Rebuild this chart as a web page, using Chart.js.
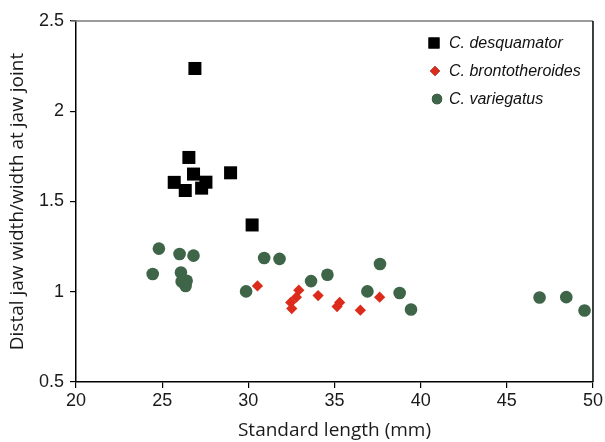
<!DOCTYPE html>
<html>
<head>
<meta charset="utf-8">
<script src="https://cdn.jsdelivr.net/npm/chart.js@4.4.1/dist/chart.umd.min.js"></script>
<style>
  html, body { margin: 0; padding: 0; background: #fff; }
  #wrap { width: 605px; height: 442px; }
</style>
</head>
<body>
<div id="wrap"><canvas id="chart" width="605" height="442"></canvas></div>
<script>
// Standard length (mm) vs distal jaw width / width at jaw joint
const seriesNames = ['C. desquamator', 'C. brontotheroides', 'C. variegatus'];

const desqX = [26.9, 26.55, 26.82, 25.7, 26.34, 27.29, 27.54, 28.97, 30.22];
const desqY = [2.237, 1.744, 1.652, 1.606, 1.561, 1.574, 1.607, 1.659, 1.37];

const brontX = [30.53, 32.93, 32.79, 32.46, 32.52, 34.05, 35.3, 35.15, 36.5, 37.62];
const brontY = [1.032, 1.009, 0.97, 0.941, 0.907, 0.979, 0.941, 0.918, 0.898, 0.97];

const varX = [24.81, 26.01, 26.82, 24.45, 26.09, 26.13, 26.42, 26.36, 30.92, 31.81, 29.87, 33.64, 34.59, 37.64, 36.91, 38.78, 39.44, 46.9, 48.45, 49.51];
const varY = [1.239, 1.209, 1.2, 1.098, 1.107, 1.057, 1.061, 1.032, 1.187, 1.182, 1.002, 1.059, 1.094, 1.154, 1.002, 0.993, 0.902, 0.968, 0.97, 0.896];

const xTicks = [20, 25, 30, 35, 40, 45, 50];
const yTicks = [0.5, 1, 1.5, 2, 2.5];

const colors = ['#000000', '#dc2a1b', '#3e6548'];
const styles = ['rect', 'rectRot', 'circle'];
const radii = [9.2, 5.6, 6.3];

function toPoints(xs, ys) {
    return xs.map((x, i) => ({ x: x, y: ys[i] }));
}

// frame (top + right edges) and in-plot legend
const framePlugin = {
    id: 'frame',
    afterDraw(chart) {
        const ctx = chart.ctx;
        const a = chart.chartArea;
        ctx.save();
        ctx.lineWidth = 1.5;
        ctx.strokeStyle = '#7a7a7a';
        ctx.beginPath();
        ctx.moveTo(a.left - 5, a.top);
        ctx.lineTo(a.right, a.top);
        ctx.stroke();
        ctx.strokeStyle = '#000';
        ctx.beginPath();
        ctx.moveTo(a.right, a.top);
        ctx.lineTo(a.right, a.bottom);
        ctx.stroke();

        // legend
        const rows = [43, 71, 99];
        const markX = [434, 435, 437];
        ctx.font = 'italic 16px "Liberation Sans", Arial, sans-serif';
        ctx.textBaseline = 'middle';
        seriesNames.forEach((name, i) => {
            Chart.helpers.drawPoint(ctx, {
                pointStyle: styles[i],
                radius: [7.8, 5, 5.2][i],
                borderWidth: 0
            }, markX[i], rows[i]);
            ctx.fillStyle = colors[i];
            ctx.fill();
            ctx.fillStyle = '#111';
            ctx.fillText(name, 449, rows[i] + 1);
        });
        ctx.restore();
    }
};

new Chart(document.getElementById('chart'), {
    type: 'scatter',
    data: {
        datasets: [
            { label: seriesNames[0], data: toPoints(desqX, desqY) },
            { label: seriesNames[1], data: toPoints(brontX, brontY) },
            { label: seriesNames[2], data: toPoints(varX, varY) }
        ].map((d, i) => ({
            ...d,
            pointStyle: styles[i],
            pointRadius: radii[i],
            pointHoverRadius: radii[i],
            backgroundColor: colors[i],
            borderColor: colors[i],
            borderWidth: 0
        }))
    },
    options: {
        responsive: false,
        animation: false,
        layout: { padding: { top: 21, right: 12, left: 0, bottom: 0 } },
        plugins: {
            legend: { display: false },
            tooltip: { enabled: false }
        },
        scales: {
            x: {
                type: 'linear',
                min: 20,
                max: 50,
                afterBuildTicks: (s) => { s.ticks = xTicks.map(v => ({ value: v })); },
                afterFit: (s) => { s.height = 60; },
                border: { display: true, color: '#000', width: 1.5 },
                grid: { display: true, drawOnChartArea: false, drawTicks: true, tickLength: 6, color: '#000', lineWidth: 1.2 },
                ticks: {
                    color: '#1a1a1a',
                    padding: 2,
                    maxRotation: 0,
                    font: { family: '"Liberation Sans", Arial, sans-serif', size: 18 },
                    callback: (v) => String(v)
                },
                title: {
                    display: true,
                    text: 'Standard length (mm)',
                    color: '#1a1a1a',
                    padding: { top: 0, bottom: 0 },
                    font: { family: '"Open Sans", sans-serif', size: 19 }
                }
            },
            y: {
                type: 'linear',
                min: 0.5,
                max: 2.5,
                afterBuildTicks: (s) => { s.ticks = yTicks.map(v => ({ value: v })); },
                afterFit: (s) => { s.width = 76; },
                border: { display: true, color: '#000', width: 1.5 },
                grid: { display: true, drawOnChartArea: false, drawTicks: true, tickLength: 6, color: '#000', lineWidth: 1.2 },
                ticks: {
                    color: '#1a1a1a',
                    padding: 6,
                    font: { family: '"Liberation Sans", Arial, sans-serif', size: 18 },
                    callback: (v) => String(v)
                },
                title: {
                    display: true,
                    text: 'Distal jaw width/width at jaw joint',
                    color: '#1a1a1a',
                    padding: { top: 6, bottom: 0 },
                    font: { family: '"Open Sans", sans-serif', size: 19 }
                }
            }
        }
    },
    plugins: [framePlugin]
});
</script>
</body>
</html>
